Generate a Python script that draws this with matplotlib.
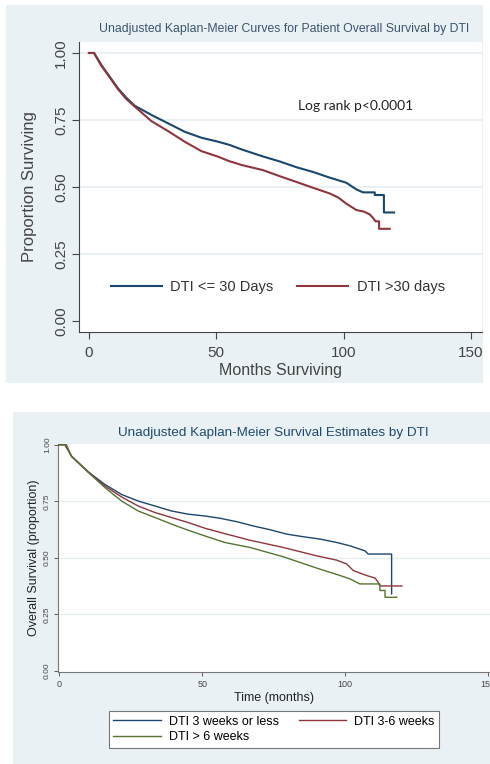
import matplotlib
matplotlib.use('Agg')
import matplotlib.pyplot as plt
from matplotlib.patches import Rectangle

# ─── Data ───
# top panel: DTI <= 30 days vs > 30 days
top_blue_t = [0, 2, 4.9, 8.1, 11.4, 14.7, 18, 24.5, 31, 37.6, 44.1, 50.7, 55.2, 60, 68.3, 75, 81.4, 88,
              94.5, 101, 105, 107.6, 112.2, 112.2, 115.8, 115.8, 119.8]
top_blue_s = [1.0, 1.0, 0.955, 0.912, 0.868, 0.833, 0.803, 0.769, 0.738, 0.706, 0.684, 0.669, 0.657, 0.64,
              0.614, 0.595, 0.574, 0.556, 0.535, 0.516, 0.491, 0.48, 0.48, 0.47, 0.47, 0.405, 0.405]
top_red_t = [0, 2, 4.9, 8.1, 11.4, 14.7, 18, 24.5, 31, 37.6, 44.1, 50.7, 55.2, 60, 68.3, 75, 81.4, 88,
             94.5, 98, 101, 105, 108, 110.2, 111.5, 112.5, 113.9, 113.9, 118.1]
top_red_s = [1.0, 1.0, 0.952, 0.91, 0.865, 0.828, 0.80, 0.746, 0.709, 0.669, 0.634, 0.613, 0.596, 0.582,
             0.563, 0.54, 0.519, 0.497, 0.476, 0.46, 0.438, 0.414, 0.408, 0.398, 0.385, 0.372, 0.372, 0.344, 0.344]
top_labels = ["DTI <= 30 Days", "DTI >30 days"]

# bottom panel: 3 DTI groups
bot_blue_t = [0, 2, 4.3, 10.1, 16, 21.8, 27.6, 33.5, 39.3, 45.1, 50.9, 56.2, 62, 67.8, 73.5, 79.5, 85,
              91.2, 97, 101.7, 106.9, 108, 116.2, 116.2]
bot_blue_s = [1.0, 1.0, 0.949, 0.88, 0.824, 0.78, 0.751, 0.729, 0.707, 0.693, 0.685, 0.675, 0.66, 0.641,
              0.625, 0.605, 0.594, 0.583, 0.568, 0.553, 0.531, 0.517, 0.517, 0.341]
bot_red_t = [0, 2, 4.3, 10.1, 16, 21.8, 27.6, 33.5, 39.3, 45.1, 50.9, 57.9, 66.7, 78.3, 90, 97, 100.5,
             102.8, 107.5, 110.4, 111.5, 112.1, 119.8]
bot_red_s = [1.0, 1.0, 0.949, 0.88, 0.817, 0.769, 0.729, 0.70, 0.678, 0.656, 0.631, 0.607, 0.578, 0.546,
             0.509, 0.49, 0.473, 0.444, 0.422, 0.411, 0.392, 0.376, 0.376]
bot_green_t = [0, 2.5, 4.3, 10.1, 16, 21.8, 27.6, 33.5, 39.3, 45.1, 50.9, 57.9, 66.7, 78.3, 90, 98.2,
               101.7, 104, 105.1, 112.1, 112.1, 113.9, 113.9, 118]
bot_green_s = [1.0, 1.0, 0.947, 0.878, 0.81, 0.751, 0.707, 0.678, 0.649, 0.622, 0.597, 0.568, 0.546,
               0.505, 0.455, 0.422, 0.407, 0.392, 0.385, 0.385, 0.356, 0.356, 0.326, 0.326]
bot_labels = ["DTI 3 weeks or less", "DTI 3-6 weeks", "DTI > 6 weeks"]

y_ticks = [0.0, 0.25, 0.5, 0.75, 1.0]
x_ticks = [0, 50, 100, 150]

# ─── Styling ───
W, H = 490, 764
BG = "#eaf1f4"
GRID = "#e6eff2"
BLUE, RED, GREEN = "#1a476f", "#90353b", "#55752f"
plt.rcParams['font.family'] = ['Liberation Sans', 'DejaVu Sans']


def px_box(x0, y0, x1, y1):
    return [x0 / W, 1 - y1 / H, (x1 - x0) / W, (y1 - y0) / H]


fig = plt.figure(figsize=(W / 100, H / 100), dpi=100)
fig.patch.set_facecolor("white")

# panel backgrounds
for x0, y0, x1, y1 in [(6, 5, 483, 383), (13, 412, 490, 764)]:
    b = px_box(x0, y0, x1, y1)
    fig.patches.append(Rectangle((b[0], b[1]), b[2], b[3], transform=fig.transFigure,
                                 facecolor=BG, edgecolor="none", zorder=-10))

# ─── Top panel ───
ax1 = fig.add_axes(px_box(79, 42, 482, 332))
ax1.set_facecolor("white")
for y in y_ticks[1:]:
    ax1.axhline(y, color=GRID, linewidth=1.2, zorder=1)
ax1.plot(top_blue_t, top_blue_s, color=BLUE, linewidth=1.5, label=top_labels[0], zorder=3)
ax1.plot(top_red_t, top_red_s, color=RED, linewidth=1.5, label=top_labels[1], zorder=3)
ax1.set_xlim(-3.9, 154.3)
ax1.set_ylim(-0.041, 1.041)
ax1.set_xticks(x_ticks)
ax1.set_yticks(y_ticks)
ax1.set_yticklabels([f"{v:.2f}" for v in y_ticks], rotation=90, va="center")
ax1.tick_params(axis="y", labelsize=11, colors="#444444", length=5, width=0.8, pad=3)
ax1.tick_params(axis="x", labelsize=11, colors="#444444", length=5, width=0.8, pad=5)
for side in ["top", "right"]:
    ax1.spines[side].set_visible(False)
for side in ["left", "bottom"]:
    ax1.spines[side].set_color("#444444")
ax1.set_xlabel("Months Surviving", fontsize=11.5, color="#444444", labelpad=2)
ax1.set_ylabel("Proportion Surviving", fontsize=12, color="#444444", labelpad=12)
fig.text(284 / W, 1 - 29 / H, "Unadjusted Kaplan-Meier Curves for Patient Overall Survival by DTI",
         ha="center", va="center", fontsize=8.8, color="#3a5470")
ax1.text(82.1, 0.802, "Log rank p<0.0001", family=["Lato", "DejaVu Sans"], fontsize=10,
         ha="left", va="center", color="#222222")
ax1.legend(loc="center", bbox_to_anchor=(0.493, 0.155), ncol=2, frameon=False, fontsize=10.5,
           handlelength=3.5, handletextpad=0.6, columnspacing=1.6, labelcolor="#333333")

# ─── Bottom panel ───
ax2 = fig.add_axes(px_box(58, 444, 490, 672))
ax2.set_facecolor("white")
for y in y_ticks[1:4]:
    ax2.axhline(y, color=GRID, linewidth=1.0, zorder=1)
l_blue, = ax2.plot(bot_blue_t, bot_blue_s, color=BLUE, linewidth=1.0, zorder=3)
l_red, = ax2.plot(bot_red_t, bot_red_s, color=RED, linewidth=1.0, zorder=3)
l_green, = ax2.plot(bot_green_t, bot_green_s, color=GREEN, linewidth=1.0, zorder=3)
ax2.set_xlim(-0.45, 150.6)
ax2.set_ylim(-0.004, 1.003)
ax2.set_xticks(x_ticks)
ax2.set_yticks(y_ticks)
ax2.set_yticklabels([f"{v:.2f}" for v in y_ticks], rotation=90, va="center")
ax2.tick_params(axis="y", labelsize=6, colors="#444444", length=3, width=0.6, pad=2)
ax2.tick_params(axis="x", labelsize=6.5, colors="#444444", length=3, width=0.6, pad=3)
for side in ["top", "right"]:
    ax2.spines[side].set_visible(False)
for side in ["left", "bottom"]:
    ax2.spines[side].set_color("#777777")
    ax2.spines[side].set_linewidth(0.8)
ax2.set_xlabel("Time (months)", fontsize=9, color="#222222", labelpad=2)
ax2.set_ylabel("Overall Survival (proportion)", fontsize=9, color="#222222", labelpad=3)
fig.text(273 / W, 1 - 433 / H, "Unadjusted Kaplan-Meier Survival Estimates by DTI",
         ha="center", va="center", fontsize=9.7, color="#1f4a73")
leg = fig.legend([l_blue, l_green, l_red], [bot_labels[0], bot_labels[2], bot_labels[1]],
                 loc="center", bbox_to_anchor=(274 / W, 1 - 729.5 / H), ncol=2, fontsize=9,
                 handlelength=3.8, handletextpad=0.65, columnspacing=1.6, labelspacing=0.3,
                 borderpad=0.35, fancybox=False, edgecolor="#777777", framealpha=1)
leg.get_frame().set_linewidth(0.8)

fig.savefig("out.png", dpi=100)
